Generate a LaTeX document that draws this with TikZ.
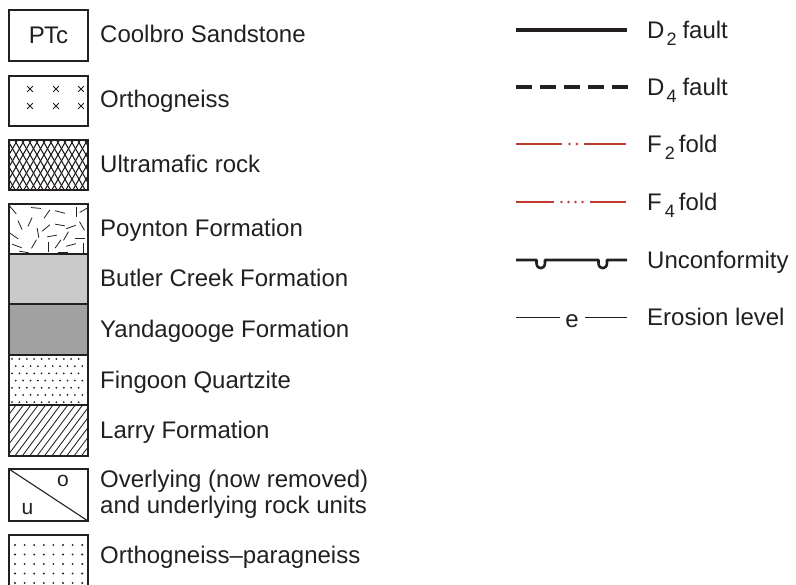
\documentclass[tikz,border=0pt]{standalone}
\usepackage{fontspec}
\setmainfont{Liberation Sans}
\definecolor{ink}{HTML}{231F20}
\definecolor{foldred}{HTML}{BF3A30}
\definecolor{lgray}{gray}{0.79}
\definecolor{dgray}{gray}{0.63}
\begin{document}
\begin{tikzpicture}[x=1pt,y=-1pt,
  lbl/.style={anchor=base west, inner sep=0pt, text=ink, font=\fontsize{24}{25}\selectfont},
  boxline/.style={draw=ink, line width=1.3pt},
  patline/.style={draw=ink, line width=0.8pt},
  thickfault/.style={draw=ink, line width=3.2pt},
  foldline/.style={draw=foldred, line width=1.5pt},
  dotfill/.style={fill=ink}]
\useasboundingbox (0,0) rectangle (796,585);

% ---------- PTc ----------
\draw[boxline] (9,10) rectangle (88,61);
\node[inner sep=0pt, text=ink, font=\fontsize{24}{25}\selectfont] (ptc) at (48.5,35) {P\kern-1pt Tc};
\node[lbl] (l1) at (100,43) {Coolbro Sandstone};

% ---------- Orthogneiss ----------
\foreach \cx in {30,56,81} \foreach \cy in {89,106} {
  \draw[ink, line width=0.9pt] (\cx-2.8,\cy-2.8) -- (\cx+2.8,\cy+2.8) (\cx-2.8,\cy+2.8) -- (\cx+2.8,\cy-2.8);
}
\draw[boxline] (9,76) rectangle (88,126);
\node[lbl] (l2) at (100,108) {Orthogneiss};

% ---------- Ultramafic ----------
\begin{scope}
\clip (9,140) rectangle (88,190);
\foreach \x in {-42,-35,...,95} {
  \draw[ink, line width=1.1pt] (\x,195) -- (\x+32,139);
  \draw[ink, line width=1.1pt] (\x,139) -- (\x+32,195);
}
\end{scope}
\draw[boxline] (9,140) rectangle (88,190);
\node[lbl] (l3) at (100,173) {Ultramafic rock};

% ---------- Poynton ----------
\begin{scope}
\clip (9,204) rectangle (88,254);
\foreach \px/\py/\pa in {13/210/50, 36/208/5, 47/214/-55, 60/212/15, 76/212/90, 84/210/-30,
  20/225/65, 30/222/-65, 46/228/-40, 60/225/10, 71/227/-20, 82/226/60,
  14/236/35, 38/233/80, 52/236/-10, 66/236/-60, 80/238/0,
  17/246/20, 34/244/-60, 48/247/90, 58/244/-55, 71/245/-15, 83/248/90,
  24/252/10, 63/252/0} {
  \draw[ink, line width=0.8pt] (\px,\py) ++(\pa:5) -- ++(\pa+180:10);
}
\end{scope}
% ---------- Butler Creek / Yandagooge ----------
\fill[lgray] (9,254) rectangle (88,304);
\fill[dgray] (9,304) rectangle (88,355);
% ---------- Fingoon ----------
\foreach \r in {0,...,6} {
  \pgfmathsetmacro{\yy}{359+\r*7.2}
  \pgfmathsetmacro{\off}{mod(\r,2)*3.7}
  \foreach \c in {0,...,9} {
    \fill[ink] (12+\off+\c*7.4,\yy) circle[radius=1pt];
  }
}
% ---------- Larry ----------
\begin{scope}
\clip (9,405) rectangle (88,456);
\foreach \x in {-40,-32.6,...,95} {
  \draw[ink, line width=0.85pt] (\x,460) -- (\x+45,400);
}
\end{scope}
\draw[boxline] (9,204) rectangle (88,456);
\draw[boxline] (9,254) -- (88,254) (9,304) -- (88,304) (9,355) -- (88,355) (9,405) -- (88,405);
\node[lbl] (l4) at (100,237) {Poynton Formation};
\node[lbl] (l5) at (100,287) {Butler Creek Formation};
\node[lbl] (l6) at (100,338) {Yandagooge Formation};
\node[lbl] (l7) at (100,388.5) {Fingoon Quartzite};
\node[lbl] (l8) at (100,439) {Larry Formation};

% ---------- Overlying / underlying ----------
\draw[boxline] (9,469) rectangle (88,521);
\draw[ink, line width=1.1pt] (9,469) -- (88,521);
\node[inner sep=0pt, text=ink, font=\fontsize{21}{22}\selectfont] (uo) at (63,481) {o};
\node[inner sep=0pt, text=ink, font=\fontsize{21}{22}\selectfont] (uu) at (27.5,509) {u};
\node[lbl] (l9a) at (100,488) {Overlying (now removed)};
\node[lbl] (l9b) at (100,513) {and underlying rock units};

% ---------- Orthogneiss-paragneiss ----------
\foreach \r in {0,...,4} \foreach \c in {0,...,7} {
  \fill[ink] (15+\c*9.6,545+\r*9.5) circle[radius=1.05pt];
}
\draw[boxline] (9,586) -- (9,535) -- (88,535) -- (88,586);
\node[lbl] (l10) at (100,563) {Orthogneiss--paragneiss};

% ================= right column =================
\coordinate (a1) at (516,30); \coordinate (a2) at (627,30);
\draw[thickfault] (a1) -- (a2);
\node[lbl] (r1) at (647,39) {D\kern2pt\raisebox{-7pt}{\fontsize{18}{18}\selectfont 2}\kern6pt fault};

\coordinate (b1) at (516,87); \coordinate (b2) at (628,87);
\draw[thickfault, dash pattern=on 16pt off 8pt] (b1) -- (b2);
\node[lbl] (r2) at (647,96) {D\kern2pt\raisebox{-7pt}{\fontsize{18}{18}\selectfont 4}\kern6pt fault};

\coordinate (c1) at (516,144); \coordinate (c2) at (562,144);
\coordinate (c3) at (584,144); \coordinate (c4) at (626,144);
\draw[foldline] (c1) -- (c2) (c3) -- (c4);
\fill[foldred] (569.5,144) circle[radius=1.4pt] (577,144) circle[radius=1.4pt];
\node[lbl] (r3) at (647,153) {F\kern3pt\raisebox{-7pt}{\fontsize{18}{18}\selectfont 2}\kern4pt fold};

\coordinate (d1) at (516,202); \coordinate (d2) at (554,202);
\coordinate (d3) at (590,202); \coordinate (d4) at (626,202);
\draw[foldline] (d1) -- (d2) (d3) -- (d4);
\fill[foldred] (561.5,202) circle[radius=1.4pt] (568.5,202) circle[radius=1.4pt]
  (575.5,202) circle[radius=1.4pt] (582.5,202) circle[radius=1.4pt];
\node[lbl] (r4) at (647,211) {F\kern3pt\raisebox{-7pt}{\fontsize{18}{18}\selectfont 4}\kern4pt fold};

\coordinate (u1) at (516,260); \coordinate (u2) at (627,260);
\draw[ink, line width=2.6pt, line join=round] (u1) -- (536.5,260) -- (536.5,263)
  .. controls (536.5,270) and (545,270) .. (545,263) -- (545,260) -- (598.5,260) -- (598.5,263)
  .. controls (598.5,270) and (607,270) .. (607,263) -- (607,260) -- (u2);
\node[lbl] (r5) at (647,269) {Unconformity};

\node[inner sep=0pt, text=ink, font=\fontsize{24}{25}\selectfont] (ee) at (572,321) {e};
\coordinate (e1) at (516,318); \coordinate (e2) at (560,318);
\coordinate (e3) at (585,318); \coordinate (e4) at (627,318);
\draw[ink, line width=1pt] (e1) -- (e2) (e3) -- (e4);
\node[lbl] (r6) at (647,326) {Erosion level};
\end{tikzpicture}
\end{document}
